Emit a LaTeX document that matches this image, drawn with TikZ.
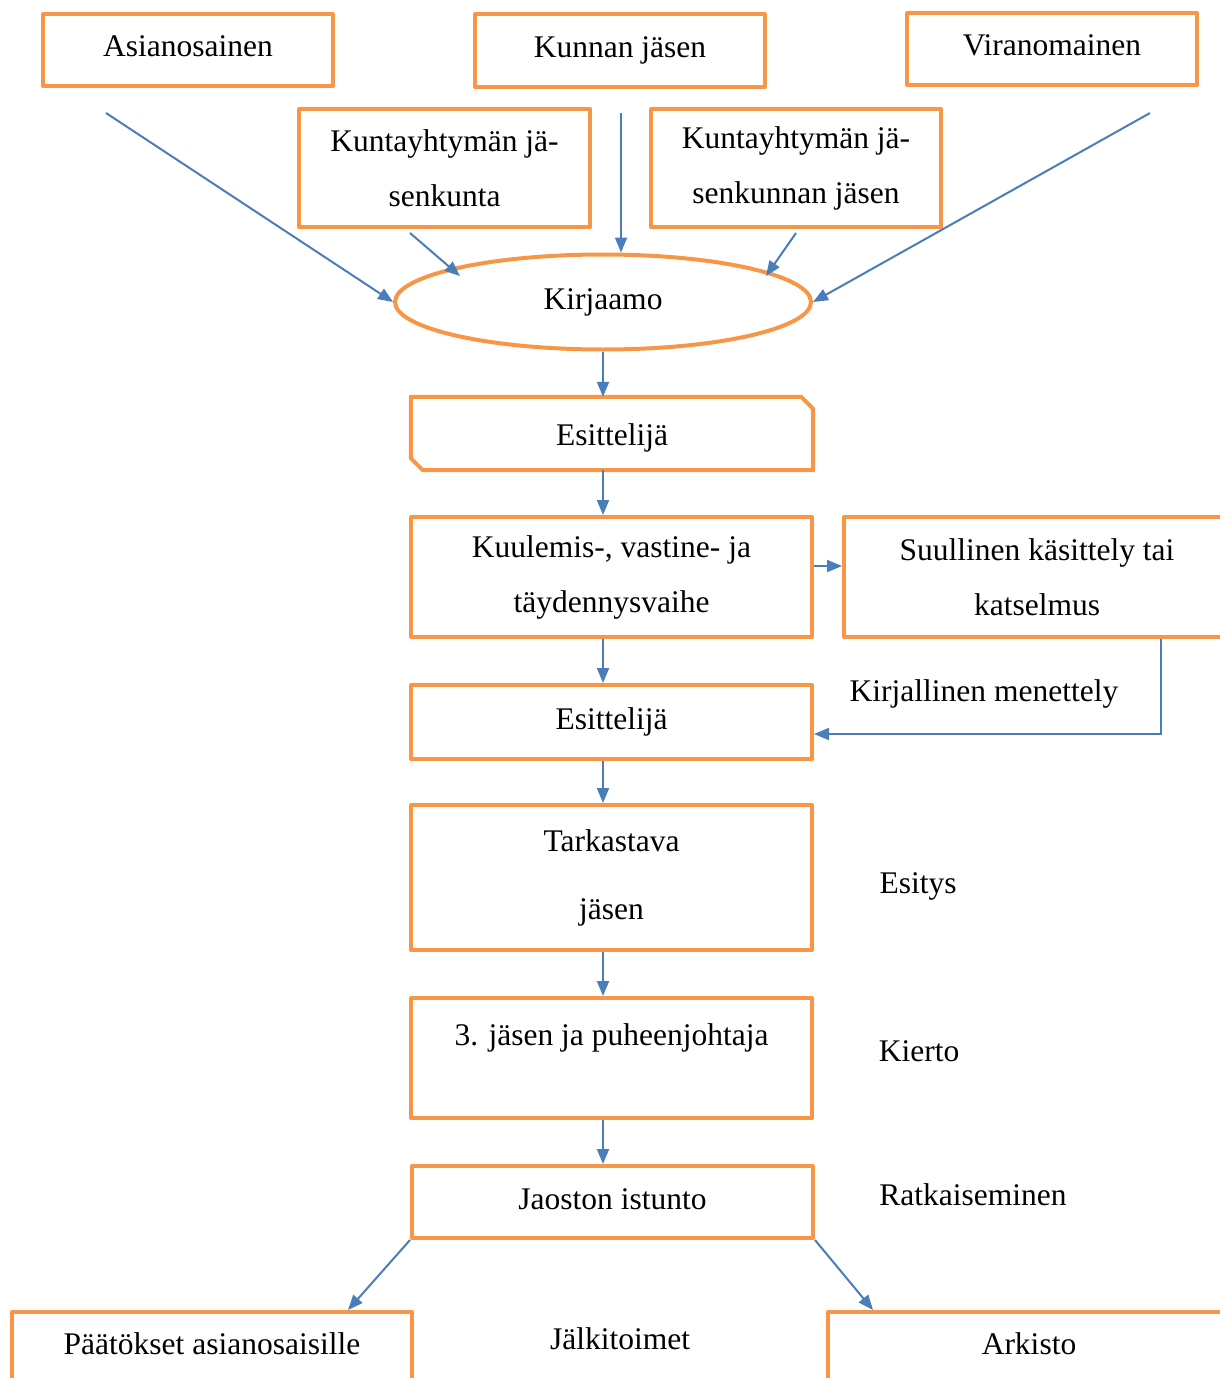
\documentclass[tikz,border=0pt]{standalone}
\usepackage{fontspec}
\setmainfont{Liberation Serif}
\usetikzlibrary{calc,arrows.meta,shapes.geometric}
\definecolor{boxorange}{HTML}{F79646}
\definecolor{arrblue}{HTML}{4A7EBB}
\begin{document}
\begin{tikzpicture}[x=1pt,y=-1pt,
  txt/.style={font=\fontsize{31.5}{55}\selectfont, text=black},
  box/.style={txt, draw=boxorange, line width=4pt, line join=round, rectangle, inner sep=0pt, align=center},
  one/.style={text height=21pt, text depth=7pt},
  orangeline/.style={draw=boxorange, line width=4pt, line join=round},
  arr/.style={draw=arrblue, line width=2pt, -{Triangle[length=15pt,width=12pt]}},
  lbl/.style={txt, inner sep=0pt, text height=21pt, text depth=7pt}]
\clip (0,0) rectangle (1220,1378);
\coordinate (ax) at (603,0);
% top row
\node[box, one, minimum width=290pt, minimum height=72pt] (asi) at (188,50) {Asianosainen};
\node[box, one, minimum width=290pt, minimum height=73pt] (kun) at (620,50.5) {Kunnan jäsen};
\node[box, one, minimum width=290pt, minimum height=72pt] (vir) at (1052,49) {Viranomainen};
\node[box, minimum width=291pt, minimum height=118pt] (ky1) at (444.5,168) {Kuntayhtymän jä-\\senkunta};
\node[box, minimum width=290pt, minimum height=118pt] (ky2) at (796,168) {Kuntayhtymän jä-\\senkunnan jäsen};
% Kirjaamo
\node[box, one, ellipse, minimum width=416pt, minimum height=95pt] (kir) at (603,302) {Kirjaamo};
% Esittelija (chamfered)
\node[txt, text height=31pt, text depth=7pt, inner sep=0pt, minimum width=402pt, minimum height=73pt] (esit1) at (612,433.5) {Esittelijä};
\draw[orangeline] (esit1.north west) -- ([xshift=-12pt]esit1.north east) -- ([yshift=-12pt]esit1.north east)
  -- (esit1.south east) -- ([xshift=12pt]esit1.south west) -- ([yshift=12pt]esit1.south west) -- cycle;
\node[box, minimum width=401pt, minimum height=120pt] (kuul) at (611.5,577) {Kuulemis-, vastine- ja\\täydennysvaihe};
\node[box, minimum width=386pt, minimum height=120pt] (suul) at (1037,577) {Suullinen käsittely tai\\katselmus};
\node[box, one, minimum width=401pt, minimum height=74pt] (esit2) at (611.5,722) {Esittelijä};
\node[box, minimum width=401pt, minimum height=145pt] (tark) at (611.5,877.5) {Tarkastava\\[13pt]jäsen};
\node[box, text height=21pt, text depth=47pt, minimum width=401pt, minimum height=120pt] (jas3) at (611.5,1058) {3. jäsen ja puheenjohtaja};
\node[box, one, minimum width=401pt, minimum height=72pt] (jao) at (612.5,1202) {Jaoston istunto};
\node[box, text height=42pt, text depth=60pt, minimum width=400pt, anchor=north] (paat) at (212,1310) {Päätökset asianosaisille};
\node[box, text height=42pt, text depth=60pt, minimum width=402pt, anchor=north] (ark) at (1029,1310) {Arkisto};
% side labels
\node[lbl] (kirj) at (984,694) {Kirjallinen menettely};
\node[lbl] (esi) at (918,886) {Esitys};
\node[lbl] (kie) at (919,1054) {Kierto};
\node[lbl] (rat) at (973,1198) {Ratkaiseminen};
\node[lbl] (jal) at (620,1342) {Jälkitoimet};
% arrows into Kirjaamo
\draw[arr] ($(asi.south west)+(65,25)$) -- (kir.west);
\draw[arr] ($(ky1.south west)+(113,4)$) -- ($(kir.center)+(-143,-26)$);
\draw[arr] ($(kun.south)+(1,24)$) -- ($(kir.north)+(18,0)$);
\draw[arr] ($(ky2.south)+(0,4)$) -- ($(kir.center)+(163,-26)$);
\draw[arr] ($(vir.south east)+(-49,26)$) -- (kir.east);
% main chain
\draw[arr] (ax |- kir.south) -- (ax |- esit1.north);
\draw[arr] (ax |- esit1.south) -- (ax |- kuul.north);
\draw[arr] ([yshift=11pt]kuul.east) -- ([yshift=11pt]suul.west);
\draw[arr] ($(suul.south west)+(319,0)$) |- ([yshift=-12pt]esit2.east);
\draw[arr] (ax |- kuul.south) -- (ax |- esit2.north);
\draw[arr] (ax |- esit2.south) -- (ax |- tark.north);
\draw[arr] (ax |- tark.south) -- (ax |- jas3.north);
\draw[arr] (ax |- jas3.south) -- (ax |- jao.north);
\draw[arr] (jao.south west) -- ($(paat.north west)+(338,0)$);
\draw[arr] (jao.south east) -- ($(ark.north west)+(47,0)$);
\end{tikzpicture}
\end{document}
